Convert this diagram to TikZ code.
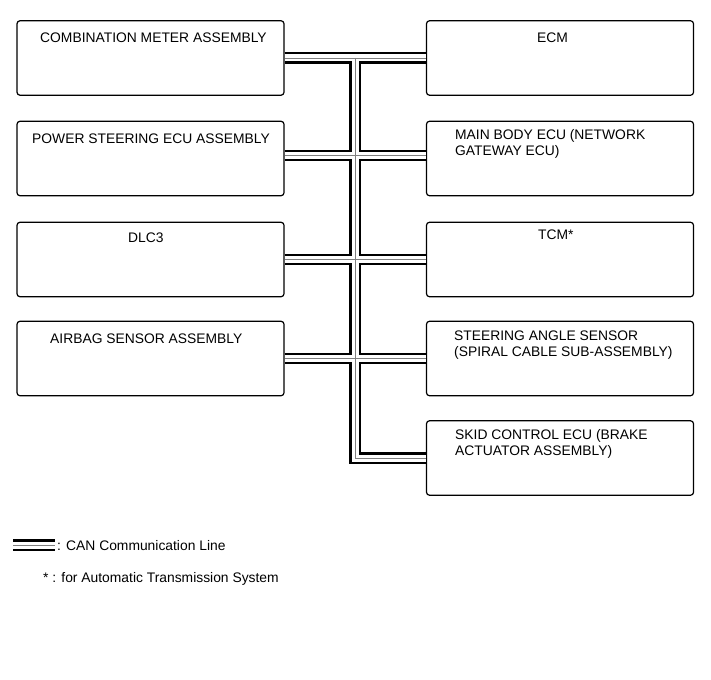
\documentclass[tikz,border=0pt]{standalone}
\usepackage{fontspec}
\setmainfont{Liberation Sans}

\tikzset{
    unit/.style={draw, line width=1.2pt, rounded corners=3pt, minimum width=267pt, minimum height=74.5pt, inner sep=0pt},
    lbl/.style={font=\fontsize{13.85}{16}\selectfont, inner sep=0pt, align=left, anchor=base west},
    canbus/.style={draw=gray, line width=0.9pt, preaction={draw=black, line width=11.6pt}, preaction={draw=white, line width=7pt}}
}

\begin{document}
\begin{tikzpicture}[x=1pt, y=-1pt]
    \useasboundingbox (0,0) rectangle (711,679);

    % left column
    \node[unit] (cm) at (150.5,58) {};
    \node[unit] (ps) at (150.5,158.5) {};
    \node[unit] (dlc) at (150.5,259.5) {};
    \node[unit] (ab) at (150.5,358.5) {};

    % right column
    \node[unit] (ecm) at (560,58) {};
    \node[unit] (mbe) at (560,158.5) {};
    \node[unit] (tcm) at (560,259.5) {};
    \node[unit] (sas) at (560,358.5) {};
    \node[unit] (sc) at (560,458) {};

    \node[lbl] (cmt) at (40,43) {COMBINATION METER ASSEMBLY};
    \node[lbl] (pst) at (32,144) {POWER STEERING ECU ASSEMBLY};
    \node[lbl] (dlct) at (128,242) {DLC3};
    \node[lbl] (abt) at (50,343) {AIRBAG SENSOR ASSEMBLY};
    \node[lbl] (ecmt) at (537,43) {ECM};
    \node[lbl] (mbet) at (455,156) {MAIN BODY ECU (NETWORK\\GATEWAY ECU)}; % base = last line
    \node[lbl] (tcmt) at (538,239) {TCM*};
    \node[lbl] (sast) at (454,356) {STEERING ANGLE SENSOR\\(SPIRAL CABLE SUB-ASSEMBLY)};
    \node[lbl] (sct) at (455,455) {SKID CONTROL ECU (BRAKE\\ACTUATOR ASSEMBLY)};

    % CAN bus
    \coordinate (bus) at (355,0);
    \draw[canbus] (cm.east) -- (ecm.west)
        ([yshift=3pt]ps.east) -- ([yshift=3pt]mbe.west)
        (dlc.east) -- (tcm.west)
        (ab.east) -- (sas.west)
        (bus |- cm.east) -- (bus |- sc.west) -- (sc.west);

    % legend
    \coordinate (lga) at (13,545);
    \coordinate (lgb) at (55,545);
    \draw[canbus] (lga) -- (lgb);
    \node[lbl] (lgt) at (57,550) {: CAN Communication Line};
    \node[lbl] (nott) at (43,582) {* : for Automatic Transmission System};
\end{tikzpicture}
\end{document}
